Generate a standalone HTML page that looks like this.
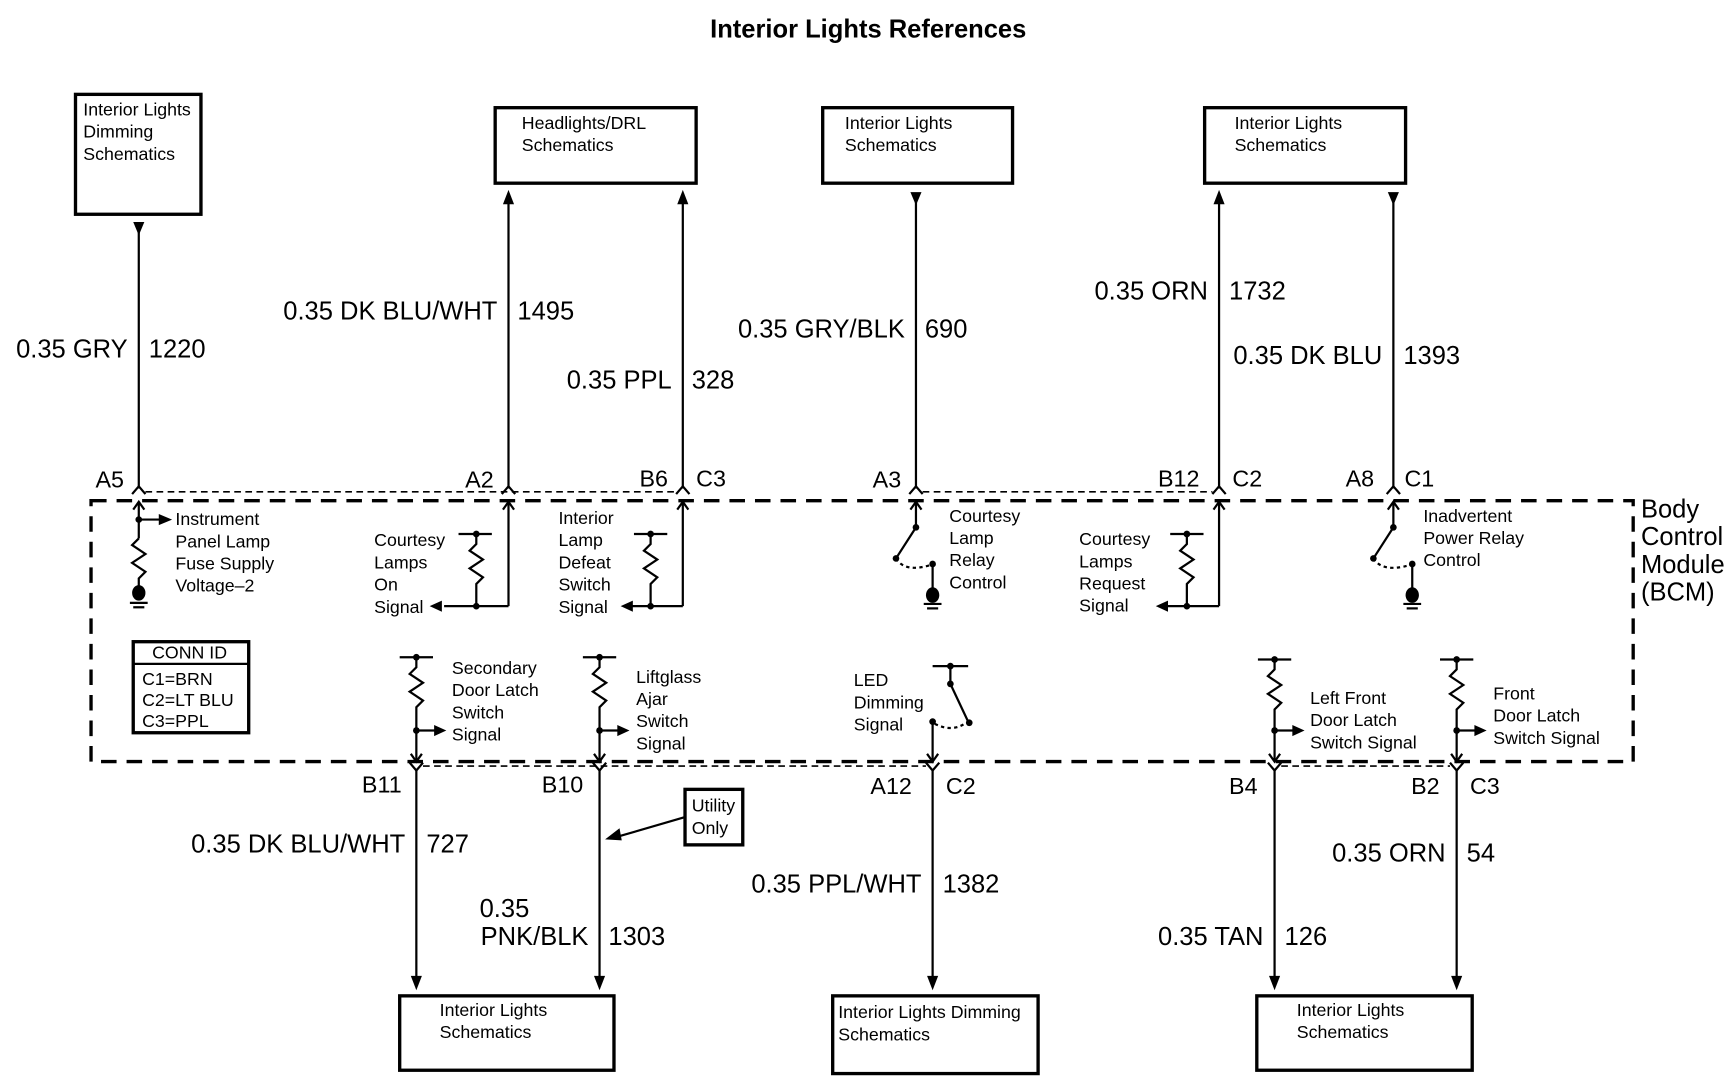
<!DOCTYPE html>
<html><head><meta charset="utf-8"><style>
html,body{margin:0;padding:0;background:#fff;}
svg{display:block;}
text{font-family:"Liberation Sans",Arial,sans-serif;fill:#000;}
.s{font-size:16px;}
.w{font-size:23px;}
.p{font-size:21px;}
</style></head><body>
<svg width="1732" height="1088" viewBox="0 0 1560 980" preserveAspectRatio="none" xmlns="http://www.w3.org/2000/svg">
<text x="782" y="34" font-size="23" font-weight="bold" text-anchor="middle">Interior Lights References</text>

<g fill="none" stroke="#000" stroke-width="3">
<rect x="68" y="85" width="113" height="108"/>
<rect x="446" y="97" width="181" height="68"/>
<rect x="741" y="97" width="171" height="68"/>
<rect x="1085" y="97" width="181" height="68"/>
<rect x="360" y="897" width="193" height="67"/>
<rect x="750" y="897" width="185" height="70"/>
<rect x="1132" y="897" width="194" height="67"/>
<rect x="617" y="711" width="52" height="50"/>
</g>
<g class="s">
<text x="75" y="104">Interior Lights</text><text x="75" y="124">Dimming</text><text x="75" y="144">Schematics</text>
<text x="470" y="116">Headlights/DRL</text><text x="470" y="136">Schematics</text>
<text x="761" y="116">Interior Lights</text><text x="761" y="136">Schematics</text>
<text x="1112" y="116">Interior Lights</text><text x="1112" y="136">Schematics</text>
<text x="396" y="915">Interior Lights</text><text x="396" y="935">Schematics</text>
<text x="755" y="917">Interior Lights Dimming</text><text x="755" y="937">Schematics</text>
<text x="1168" y="915">Interior Lights</text><text x="1168" y="935">Schematics</text>
<text x="623" y="731">Utility</text><text x="623" y="751">Only</text>
</g>

<g stroke="#000" stroke-width="2" fill="none">
<line x1="125" y1="200" x2="125" y2="440"/>
<line x1="458" y1="175" x2="458" y2="440"/>
<line x1="615" y1="175" x2="615" y2="440"/>
<line x1="825" y1="175" x2="825" y2="440"/>
<line x1="1098" y1="175" x2="1098" y2="440"/>
<line x1="1255" y1="175" x2="1255" y2="440"/>
<line x1="375" y1="694" x2="375" y2="885"/>
<line x1="540" y1="694" x2="540" y2="885"/>
<line x1="840" y1="694" x2="840" y2="885"/>
<line x1="1148" y1="694" x2="1148" y2="885"/>
<line x1="1312" y1="694" x2="1312" y2="885"/>
<line x1="617" y1="736" x2="555" y2="754"/>
</g>
<g fill="#000">
<polygon points="120,200 130,200 125,212"/>
<polygon points="453,184 463,184 458,171"/>
<polygon points="610,184 620,184 615,171"/>
<polygon points="820,173 830,173 825,185"/>
<polygon points="1093,184 1103,184 1098,171"/>
<polygon points="1250,173 1260,173 1255,185"/>
<polygon points="370,879 380,879 375,892"/>
<polygon points="535,879 545,879 540,892"/>
<polygon points="835,879 845,879 840,892"/>
<polygon points="1143,879 1153,879 1148,892"/>
<polygon points="1307,879 1317,879 1312,892"/>
<polygon points="545,756 558,746 560,757"/>
</g>

<g stroke="#000" stroke-width="2" fill="none">
<polyline points="119,445 125,438 131,445"/>
<polyline points="452,445 458,438 464,445"/>
<polyline points="609,445 615,438 621,445"/>
<polyline points="819,445 825,438 831,445"/>
<polyline points="1092,445 1098,438 1104,445"/>
<polyline points="1249,445 1255,438 1261,445"/>
<polyline points="369,687 375,694 381,687"/>
<polyline points="534,687 540,694 546,687"/>
<polyline points="834,687 840,694 846,687"/>
<polyline points="1142,687 1148,694 1154,687"/>
<polyline points="1306,687 1312,694 1318,687"/>
</g>
<g stroke="#000" stroke-width="1.5" stroke-dasharray="6,4" fill="none">
<line x1="131" y1="443" x2="609" y2="443"/>
<line x1="831" y1="443" x2="1092" y2="443"/>
<line x1="381" y1="690" x2="834" y2="690"/>
<line x1="1154" y1="690" x2="1306" y2="690"/>
</g>
<rect x="82" y="451" width="1389" height="235" fill="none" stroke="#000" stroke-width="3" stroke-dasharray="14,9"/>

<g class="p">
<text x="86" y="439">A5</text>
<text x="419" y="439">A2</text>
<text x="576" y="438">B6</text><text x="627" y="438">C3</text>
<text x="786" y="439">A3</text>
<text x="1043" y="438">B12</text><text x="1110" y="438">C2</text>
<text x="1212" y="438">A8</text><text x="1265" y="438">C1</text>
<text x="326" y="714">B11</text>
<text x="488" y="714">B10</text>
<text x="784" y="715">A12</text><text x="852" y="715">C2</text>
<text x="1107" y="715">B4</text>
<text x="1271" y="715">B2</text><text x="1324" y="715">C3</text>
</g>
<g class="w">
<text x="115" y="322" text-anchor="end">0.35 GRY</text><text x="134" y="322">1220</text>
<text x="448" y="288" text-anchor="end">0.35 DK BLU/WHT</text><text x="466" y="288">1495</text>
<text x="605" y="350" text-anchor="end">0.35 PPL</text><text x="623" y="350">328</text>
<text x="815" y="304" text-anchor="end">0.35 GRY/BLK</text><text x="833" y="304">690</text>
<text x="1088" y="270" text-anchor="end">0.35 ORN</text><text x="1107" y="270">1732</text>
<text x="1245" y="328" text-anchor="end">0.35 DK BLU</text><text x="1264" y="328">1393</text>
<text x="365" y="768" text-anchor="end">0.35 DK BLU/WHT</text><text x="384" y="768">727</text>
<text x="432" y="826">0.35</text><text x="530" y="851" text-anchor="end">PNK/BLK</text><text x="548" y="851">1303</text>
<text x="830" y="804" text-anchor="end">0.35 PPL/WHT</text><text x="849" y="804">1382</text>
<text x="1138" y="851" text-anchor="end">0.35 TAN</text><text x="1157" y="851">126</text>
<text x="1302" y="776" text-anchor="end">0.35 ORN</text><text x="1321" y="776">54</text>
<text x="1478" y="466">Body</text><text x="1478" y="491">Control</text><text x="1478" y="516">Module</text><text x="1478" y="541">(BCM)</text>
</g>

<g stroke="#000" stroke-width="2" fill="none">
<line x1="125" y1="452" x2="125" y2="485"/><polyline points="120,459 125,452 130,459"/>
<line x1="125" y1="468" x2="145" y2="468"/>
<polyline points="125,485 119,491 131,499 119,507 131,515 125,521 125,528"/>
<line x1="117" y1="543" x2="133" y2="543"/><line x1="120" y1="547" x2="130" y2="547"/>
<line x1="458" y1="452" x2="458" y2="546"/><polyline points="453,459 458,452 463,459"/>
<line x1="458" y1="546" x2="400" y2="546"/>
<line x1="413" y1="481" x2="443" y2="481"/>
<polyline points="429,481 429,490 423,496 435,504 423,512 435,520 429,526 429,546"/>
<line x1="615" y1="452" x2="615" y2="546"/><polyline points="610,459 615,452 620,459"/>
<line x1="615" y1="546" x2="568" y2="546"/>
<line x1="571" y1="481" x2="601" y2="481"/>
<polyline points="586,481 586,490 580,496 592,504 580,512 592,520 586,526 586,546"/>
<line x1="825" y1="452" x2="825" y2="475"/><polyline points="820,459 825,452 830,459"/>
<line x1="825" y1="475" x2="807" y2="503"/>
<line x1="840" y1="508" x2="840" y2="530"/>
<path d="M807,503 Q815,516 838,509" stroke-dasharray="3,3"/>
<line x1="832" y1="544" x2="848" y2="544"/><line x1="835" y1="548" x2="845" y2="548"/>
<line x1="1098" y1="452" x2="1098" y2="546"/><polyline points="1093,459 1098,452 1103,459"/>
<line x1="1098" y1="546" x2="1050" y2="546"/>
<line x1="1054" y1="481" x2="1084" y2="481"/>
<polyline points="1069,481 1069,490 1063,496 1075,504 1063,512 1075,520 1069,526 1069,546"/>
<line x1="1255" y1="452" x2="1255" y2="475"/><polyline points="1250,459 1255,452 1260,459"/>
<line x1="1255" y1="475" x2="1237" y2="503"/>
<line x1="1272" y1="508" x2="1272" y2="530"/>
<path d="M1237,503 Q1245,516 1270,509" stroke-dasharray="3,3"/>
<line x1="1264" y1="544" x2="1280" y2="544"/><line x1="1267" y1="548" x2="1277" y2="548"/>
<line x1="360" y1="592" x2="390" y2="592"/>
<polyline points="375,592 375,601 369,607 381,615 369,623 381,631 375,637 375,685"/>
<line x1="375" y1="658" x2="393" y2="658"/><polyline points="370,679 375,686 380,679"/>
<line x1="525" y1="592" x2="555" y2="592"/>
<polyline points="540,592 540,601 534,607 546,615 534,623 546,631 540,637 540,685"/>
<line x1="540" y1="658" x2="558" y2="658"/><polyline points="535,679 540,686 545,679"/>
<line x1="1133" y1="594" x2="1163" y2="594"/>
<polyline points="1148,594 1148,603 1142,609 1154,617 1142,625 1154,633 1148,639 1148,685"/>
<line x1="1148" y1="658" x2="1166" y2="658"/><polyline points="1143,679 1148,686 1153,679"/>
<line x1="1297" y1="594" x2="1327" y2="594"/>
<polyline points="1312,594 1312,603 1306,609 1318,617 1306,625 1318,633 1312,639 1312,685"/>
<line x1="1312" y1="658" x2="1330" y2="658"/><polyline points="1307,679 1312,686 1317,679"/>
<line x1="840" y1="600" x2="872" y2="600"/>
<line x1="856" y1="600" x2="856" y2="616"/>
<line x1="856" y1="616" x2="872" y2="650"/>
<line x1="840" y1="650" x2="840" y2="685"/><polyline points="835,679 840,686 845,679"/>
<path d="M842,652 Q858,660 870,651" stroke-dasharray="3,3"/>
<rect x="120" y="578" width="104" height="82" stroke-width="3"/>
<line x1="120" y1="598" x2="224" y2="598"/>
</g>
<g fill="#000">
<polygon points="143,463 155,468 143,473"/>
<circle cx="125" cy="468" r="3"/>
<ellipse cx="125" cy="534" rx="6" ry="7"/>
<polygon points="398,541 398,551 387,546"/><circle cx="429" cy="481" r="3"/><circle cx="429" cy="546" r="3"/>
<polygon points="570,541 570,551 559,546"/><circle cx="586" cy="481" r="3"/><circle cx="586" cy="546" r="3"/>
<circle cx="825" cy="475" r="3"/><circle cx="807" cy="503" r="3"/><circle cx="840" cy="508" r="3"/><ellipse cx="840" cy="536" rx="6" ry="7"/>
<polygon points="1052,541 1052,551 1041,546"/><circle cx="1069" cy="481" r="3"/><circle cx="1069" cy="546" r="3"/>
<circle cx="1255" cy="475" r="3"/><circle cx="1237" cy="503" r="3"/><circle cx="1272" cy="508" r="3"/><ellipse cx="1272" cy="536" rx="6" ry="7"/>
<circle cx="375" cy="592" r="3"/><circle cx="375" cy="658" r="3"/><polygon points="391,653 402,658 391,663"/>
<circle cx="540" cy="592" r="3"/><circle cx="540" cy="658" r="3"/><polygon points="556,653 567,658 556,663"/>
<circle cx="1148" cy="594" r="3"/><circle cx="1148" cy="658" r="3"/><polygon points="1164,653 1175,658 1164,663"/>
<circle cx="1312" cy="594" r="3"/><circle cx="1312" cy="658" r="3"/><polygon points="1328,653 1339,658 1328,663"/>
<circle cx="856" cy="600" r="3"/><circle cx="856" cy="616" r="3"/><circle cx="873" cy="651" r="3"/><circle cx="840" cy="650" r="3"/>
</g>
<g class="s">
<text x="158" y="473">Instrument</text><text x="158" y="493">Panel Lamp</text><text x="158" y="513">Fuse Supply</text><text x="158" y="533">Voltage–2</text>
<text x="337" y="492">Courtesy</text><text x="337" y="512">Lamps</text><text x="337" y="532">On</text><text x="337" y="552">Signal</text>
<text x="503" y="472">Interior</text><text x="503" y="492">Lamp</text><text x="503" y="512">Defeat</text><text x="503" y="532">Switch</text><text x="503" y="552">Signal</text>
<text x="855" y="470">Courtesy</text><text x="855" y="490">Lamp</text><text x="855" y="510">Relay</text><text x="855" y="530">Control</text>
<text x="972" y="491">Courtesy</text><text x="972" y="511">Lamps</text><text x="972" y="531">Request</text><text x="972" y="551">Signal</text>
<text x="1282" y="470">Inadvertent</text><text x="1282" y="490">Power Relay</text><text x="1282" y="510">Control</text>
<text x="137" y="593">CONN ID</text>
<text x="128" y="617">C1=BRN</text><text x="128" y="636">C2=LT BLU</text><text x="128" y="655">C3=PPL</text>
<text x="407" y="607">Secondary</text><text x="407" y="627">Door Latch</text><text x="407" y="647">Switch</text><text x="407" y="667">Signal</text>
<text x="573" y="615">Liftglass</text><text x="573" y="635">Ajar</text><text x="573" y="655">Switch</text><text x="573" y="675">Signal</text>
<text x="769" y="618">LED</text><text x="769" y="638">Dimming</text><text x="769" y="658">Signal</text>
<text x="1180" y="634">Left Front</text><text x="1180" y="654">Door Latch</text><text x="1180" y="674">Switch Signal</text>
<text x="1345" y="630">Front</text><text x="1345" y="650">Door Latch</text><text x="1345" y="670">Switch Signal</text>
</g>
</svg>
</body></html>
